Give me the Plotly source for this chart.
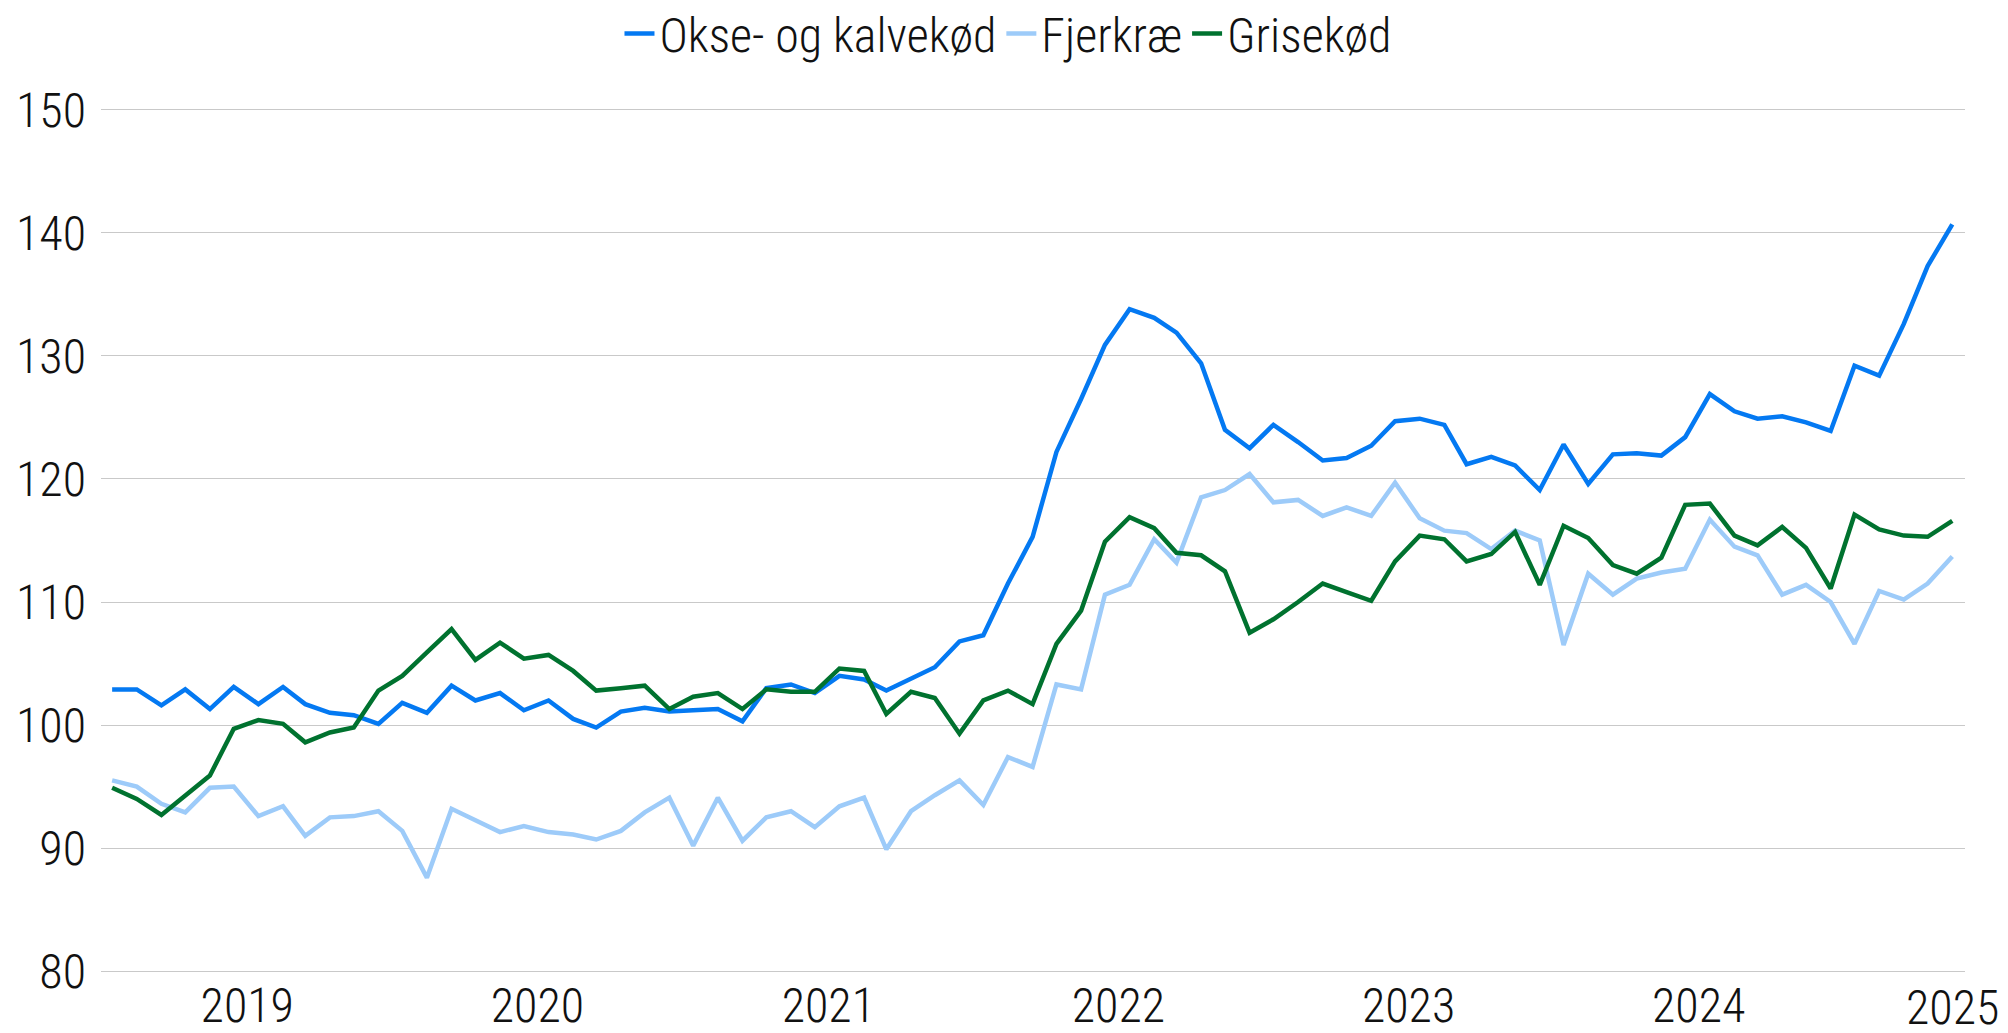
import plotly.graph_objects as go

# Monthly observations, July 2018 - November 2024
start_year, start_month, n_months = 2018, 7, 77
months = []
for k in range(n_months):
    y = start_year + (start_month - 1 + k) // 12
    m = (start_month - 1 + k) % 12 + 1
    months.append(f"{y}-{m:02d}-15")

okse = [102.9, 102.9, 101.6, 102.9, 101.3, 103.1, 101.7, 103.1, 101.7, 101.0,
        100.8, 100.1, 101.8, 101.0, 103.2, 102.0, 102.6, 101.2, 102.0, 100.5,
        99.8, 101.1, 101.4, 101.1, 101.2, 101.3, 100.3, 103.0, 103.3, 102.6,
        104.0, 103.7, 102.8, 103.8, 104.7, 106.8, 107.3, 111.5, 115.3, 122.2,
        126.5, 130.9, 133.8, 133.1, 131.9, 129.4, 124.0, 122.5, 124.4, 123.0,
        121.5, 121.7, 122.7, 124.7, 124.9, 124.4, 121.2, 121.8, 121.1, 119.1,
        122.8, 119.6, 122.0, 122.1, 121.9, 123.4, 126.9, 125.5, 124.9, 125.1,
        124.6, 123.9, 129.2, 128.4, 132.6, 137.3, 140.7]

fjerkrae = [95.5, 95.0, 93.6, 92.9, 94.9, 95.0, 92.6, 93.4, 91.0, 92.5,
            92.6, 93.0, 91.4, 87.6, 93.2, 92.3, 91.3, 91.8, 91.3, 91.1,
            90.7, 91.4, 92.9, 94.1, 90.2, 94.1, 90.6, 92.5, 93.0, 91.7,
            93.4, 94.1, 89.9, 93.0, 94.3, 95.5, 93.5, 97.4, 96.6, 103.3,
            102.9, 110.6, 111.4, 115.1, 113.2, 118.5, 119.1, 120.4, 118.1, 118.3,
            117.0, 117.7, 117.0, 119.7, 116.8, 115.8, 115.6, 114.3, 115.8, 115.0,
            106.5, 112.3, 110.6, 111.9, 112.4, 112.7, 116.7, 114.5, 113.8, 110.6,
            111.4, 110.0, 106.6, 110.9, 110.2, 111.5, 113.7]

grise = [94.9, 94.0, 92.7, 94.3, 95.9, 99.7, 100.4, 100.1, 98.6, 99.4,
         99.8, 102.8, 104.0, 105.9, 107.8, 105.3, 106.7, 105.4, 105.7, 104.4,
         102.8, 103.0, 103.2, 101.3, 102.3, 102.6, 101.3, 102.9, 102.7, 102.7,
         104.6, 104.4, 100.9, 102.7, 102.2, 99.3, 102.0, 102.8, 101.7, 106.6,
         109.3, 114.9, 116.9, 116.0, 114.0, 113.8, 112.5, 107.5, 108.6, 110.0,
         111.5, 110.8, 110.1, 113.3, 115.4, 115.1, 113.3, 113.9, 115.7, 111.4,
         116.2, 115.2, 113.0, 112.3, 113.6, 117.9, 118.0, 115.4, 114.6, 116.1,
         114.4, 111.1, 117.1, 115.9, 115.4, 115.3, 116.6]

series_names = ["Okse- og kalvekød", "Fjerkræ", "Grisekød"]
series_colors = ["#0479f2", "#9dcbf9", "#00722f"]

year_ticks = ["2019-01-01", "2020-01-01", "2021-01-01", "2022-01-01",
              "2023-01-01", "2024-01-01"]
year_labels = ["2019", "2020", "2021", "2022", "2023", "2024"]
last_year_label = "2025"
y_ticks = [80, 90, 100, 110, 120, 130, 140, 150]

FONT = "Roboto Condensed"
FS = 48
TXT = "#111111"
tickfont = dict(family=FONT, size=FS, weight=300, color=TXT)

fig = go.Figure()
for name, vals, col in zip(series_names, [okse, fjerkrae, grise], series_colors):
    fig.add_trace(go.Scatter(x=months, y=vals, name=name, mode="lines",
                             line=dict(color=col, width=4.5)))

fig.update_layout(
    width=2008, height=1033,
    margin=dict(l=93, r=51, t=100, b=68, autoexpand=False),
    paper_bgcolor="white", plot_bgcolor="white",
    font=tickfont,
    showlegend=True,
    legend=dict(orientation="h", xref="container", yref="container",
                x=0.498, xanchor="center", y=0.975, yanchor="middle",
                font=tickfont, itemwidth=30, tracegroupgap=0,
                bgcolor="rgba(0,0,0,0)"),
    xaxis=dict(type="date", range=["2018-07-01", "2024-12-01"],
               tickmode="array", tickvals=year_ticks, ticktext=year_labels,
               showgrid=False, zeroline=False, ticks="", showline=False,
               automargin=False, ticklabelstandoff=0, tickfont=tickfont),
    yaxis=dict(range=[79.85, 150.15], tickmode="array", tickvals=y_ticks,
               showgrid=True, gridcolor="#c9c9c9", gridwidth=1.3,
               zeroline=False, showline=False, ticks="",
               automargin=False, ticklabelstandoff=14, tickfont=tickfont),
    annotations=[dict(text=last_year_label, xref="paper", yref="paper",
                      x=1.0, y=0, xanchor="right", yanchor="top",
                      xshift=36, yshift=-4, showarrow=False, font=tickfont)],
)

fig.write_html("out.html")
